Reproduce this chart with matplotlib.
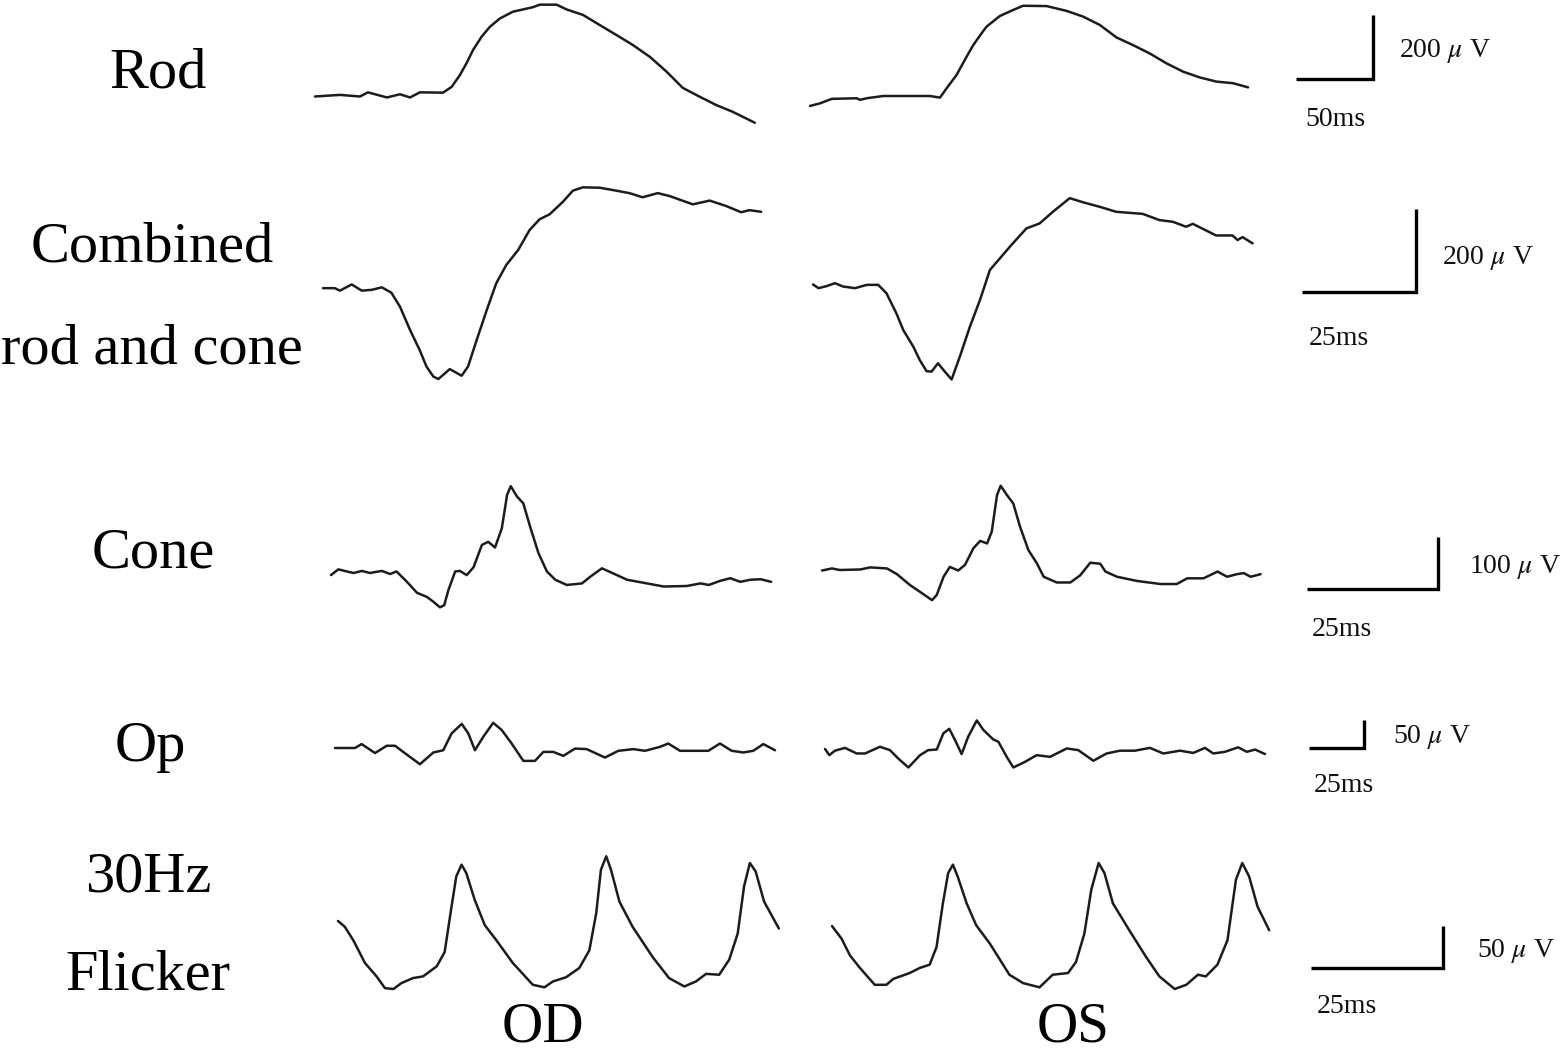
import matplotlib
matplotlib.use("Agg")
import matplotlib.pyplot as plt
from matplotlib.transforms import Affine2D

plt.rcParams["mathtext.fontset"] = "stix"

# ---------------- data (time in ms, amplitude in µV) ----------------
row_labels = ["Rod", "Combined\nrod and cone", "Cone", "Op", "30Hz\nFlicker"]
eye_labels = ["OD", "OS"]
bar_ms = [50, 25, 25, 25, 25]
bar_uv = [200, 200, 100, 50, 50]

rod_od_t = [0, 16.2, 29.2, 34.4, 46.7, 55.2, 61.7, 68.1, 83.1, 88.7, 94.1, 98.5, 102.6, 108.2,
            113.6, 120.1, 128.5, 141.5, 146, 156.9, 163.4, 174, 185, 195.8, 206.4, 217.4,
            228.2, 238.8, 249.9, 260.7, 271.3, 285.6]
rod_od_v = [0, 5, 0, 13, -3, 7, -3, 13, 12, 30, 67, 105, 145, 187, 218, 244, 265, 279, 287,
            287, 272, 255, 223, 192, 161, 124, 78, 27, -1, -27, -48, -82]

rod_os_t = [0, 6.5, 14.1, 30.3, 32.5, 36.8, 47.6, 77.9, 84.4, 88.7, 95.2, 101.7, 106, 111.4,
            114.7, 123.3, 132, 138.4, 153.6, 166.6, 177.4, 188.2, 199, 209.8, 220.6, 231.5,
            242.3, 253.1, 263.9, 274.7, 284.5]
rod_os_v = [-31, -23, -9, -7, -12, -7, 0, 0, -5, 24, 66, 123, 159, 196, 217, 250, 269, 282,
            281, 266, 248, 222, 183, 159, 133, 102, 76, 58, 45, 40, 27]

comb_od_t = [0, 2.6, 3.7, 6.3, 8.5, 10.7, 12.9, 15.0, 16.9, 19.1, 21.2, 22.7, 24.2, 25.3,
             27.8, 30.4, 31.8, 33.7, 35.9, 38.0, 40.2, 42.8, 45.3, 47.5, 49.7, 52.6, 54.8,
             57.0, 60.7, 64.3, 67.2, 70.1, 73.4, 76.0, 81.1, 84.8, 88.4, 91.7, 93.5, 96.1]
comb_od_v = [2, 2, -4, 11, -4, -2, 4, -9, -43, -99, -147, -187, -211, -217, -193, -209, -187,
             -123, -51, 14, 58, 94, 142, 168, 180, 210, 237, 245, 244, 237, 231, 221, 231,
             224, 204, 213, 200, 185, 190, 186]

comb_os_t = [0, 1.2, 3.0, 4.8, 6.6, 9.2, 11.8, 14.3, 16.1, 18.3, 19.8, 22.0, 23.4, 24.9,
             26.0, 27.4, 28.9, 30.4, 32.2, 34.4, 36.6, 38.8, 41.0, 43.5, 46.8, 49.7, 52.6,
             56.3, 59.2, 62.9, 66.5, 72.3, 76.0, 78.9, 81.8, 83.3, 88.4, 92.0, 93.1, 94.2, 96.4]
comb_os_v = [11, 2, 7, 14, 6, 2, 10, 10, -10, -59, -99, -139, -171, -198, -199, -179, -199,
             -218, -163, -91, -27, 46, 74, 106, 146, 158, 186, 219, 209, 198, 186, 181, 166,
             162, 150, 157, 129, 129, 118, 125, 110]

cone_od_t = [0, 1.4, 3.0, 4.3, 5.9, 7.4, 9.7, 11.3, 12.5, 14.5, 16.4, 18.3, 19.5, 20.8, 21.6,
             22.4, 23.7, 24.6, 25.9, 27.2, 28.8, 30.0, 31.3, 32.6, 33.6, 34.3, 35.5, 36.7,
             38.0, 39.6, 41.2, 42.8, 45.0, 47.9, 49.5, 51.7, 53.9, 56.5, 60.3, 63.5, 67.9,
             70.5, 72.1, 74.3, 76.2, 78.1, 80.0, 82.0, 84.0]
cone_od_v = [-4, 7, 3, 0, 4, 0, 4, -2, 3, -17, -38, -46, -55, -66, -62, -33, 3, 4, -4, 11,
             54, 60, 49, 86, 150, 167, 147, 134, 89, 38, 3, -13, -23, -20, -7, 9, -1, -13,
             -20, -26, -25, -20, -23, -15, -10, -17, -13, -12, -17]

cone_os_t = [0, 1.9, 3.4, 7.3, 9.2, 12.4, 14.3, 16.8, 18.7, 21.0, 21.9, 23.2, 24.4, 26.0,
             27.3, 28.9, 30.2, 31.5, 32.4, 33.4, 34.1, 35.3, 36.5, 37.8, 39.4, 41.0, 42.3,
             44.8, 47.4, 49.3, 51.2, 53.1, 54.1, 56.3, 60.1, 64.6, 67.7, 69.7, 72.8, 75.5,
             77.3, 79.2, 80.5, 81.8, 83.7]
cone_os_v = [-1, 3, 0, 1, 5, 3, -8, -29, -42, -58, -48, -13, 6, -1, 10, 42, 56, 51, 74, 144,
             162, 144, 128, 83, 38, 13, -13, -24, -24, -10, 14, 12, -3, -13, -21, -27, -27,
             -16, -16, -3, -13, -8, -6, -13, -8]

op_od_t = [0, 9.1, 12.1, 18.2, 23.5, 27.3, 31.0, 38.6, 44.7, 49.2, 53.0, 57.6, 60.6, 63.6,
           67.4, 71.9, 75.8, 80.3, 85.6, 90.9, 94.7, 99.2, 103.8, 109.1, 114.4, 122.7, 128.8,
           135.6, 140.9, 147.7, 151.5, 156.8, 169.7, 175.0, 180.3, 185.6, 190.1, 194.7, 200.0]
op_od_v = [0, 0, 7, -9, 4, 4, -7, -29, -8, -4, 26, 43, 26, -4, 20, 45, 32, 8, -23, -23, -7,
           -7, -14, -1, -2, -17, -5, -2, -5, 2, 8, -5, -5, 8, -5, -8, -5, 7, -4]

op_os_t = [0, 2.0, 4.5, 9.1, 14.4, 18.2, 25.0, 29.5, 33.3, 37.9, 43.2, 46.9, 50.8, 53.8,
           56.5, 59.1, 62.1, 65.1, 69.0, 72.0, 76.5, 78.8, 82.6, 85.6, 90.9, 96.2, 102.3,
           109.9, 115.1, 122.0, 128.0, 134.1, 140.9, 147.7, 153.8, 161.3, 167.4, 172.7,
           176.5, 181.8, 187.8, 191.7, 195.5, 200.0]
op_os_v = [0, -11, -3, 2, -8, -8, 4, -2, -17, -33, -11, -2, -1, 28, 36, 16, -9, 22, 51, 34,
           17, 13, -14, -33, -23, -11, -14, 1, -2, -21, -8, -3, -3, 2, -8, -3, -7, 2, -8, -5,
           3, -5, -1, -9]

flk_od_t = [0, 1.3, 2.9, 5.1, 7.3, 8.9, 10.5, 12.0, 14.2, 16.1, 18.7, 20.2, 21.5, 22.4, 23.4,
            24.3, 25.9, 27.8, 30.0, 33.1, 36.9, 39.1, 40.7, 43.2, 45.7, 47.6, 48.9, 49.8,
            50.8, 51.7, 53.3, 55.8, 59.6, 62.7, 65.6, 67.8, 69.7, 72.2, 74.1, 75.7, 76.9,
            78.0, 79.1, 80.7, 83.5]
flk_od_v = [56, 49, 33, 6, -10, -24, -25, -18, -12, -10, 2, 19, 73, 109, 123, 113, 81, 51,
            33, 6, -20, -23, -16, -11, 0, 21, 65, 117, 133, 117, 79, 49, 13, -12, -22, -16,
            -7, -8, 10, 41, 97, 125, 115, 79, 47]

flk_os_t = [0, 1.8, 3.4, 5.3, 8.1, 10.3, 11.6, 14.7, 16.6, 18.5, 19.8, 21.0, 22.0, 22.9,
            23.8, 25.5, 27.3, 29.9, 31.8, 33.6, 36.2, 39.3, 41.8, 44.7, 46.2, 47.8, 49.1,
            50.5, 51.6, 53.2, 56.3, 59.5, 62.0, 64.9, 67.1, 69.3, 70.8, 73.0, 74.9, 76.5,
            77.7, 79.0, 80.6, 82.8]
flk_os_v = [50, 35, 15, 0, -20, -20, -13, -6, 0, 4, 25, 77, 113, 123, 109, 77, 51, 29, 10,
            -8, -18, -23, -8, -6, 7, 41, 93, 125, 113, 77, 45, 13, -10, -25, -20, -8, -10, 4,
            33, 105, 125, 109, 73, 45]

traces = [
    [(rod_od_t, rod_od_v), (rod_os_t, rod_os_v)],
    [(comb_od_t, comb_od_v), (comb_os_t, comb_os_v)],
    [(cone_od_t, cone_od_v), (cone_os_t, cone_os_v)],
    [(op_od_t, op_od_v), (op_os_t, op_os_v)],
    [(flk_od_t, flk_od_v), (flk_os_t, flk_os_v)],
]

# ---------------- layout (pixels) ----------------
W, H = 1565, 1052
px_per_ms = [1.54, 4.56, 5.24, 2.2, 5.28]
px_per_uv = [0.32, 0.415, 0.52, 0.56, 0.84]
anchors = [[(315, 96.5), (810, 96)],
           [(323, 289), (813, 289)],
           [(331, 573), (822, 570)],
           [(335, 748), (825, 749)],
           [(338, 968), (832, 968)]]
bar_corner = [(1373, 79), (1416, 292), (1438, 589), (1364, 748), (1443, 968)]
uv_text_pos = [(1399, 57), (1442, 264), (1469, 573), (1393, 743), (1477, 957)]
ms_text_pos = [(1305, 126), (1309, 345), (1312, 636), (1314, 792), (1317, 1013)]
label_pos = [(158, [87]), (152, [261, 363]), (153, [567]), (150, [761]), (148, [891, 990])]

fig = plt.figure(figsize=(W / 100, H / 100), dpi=100)
fig.patch.set_facecolor("white")
ax = fig.add_axes([0, 0, 1, 1])
ax.set_xlim(0, W)
ax.set_ylim(H, 0)
ax.axis("off")

serif = ["Liberation Serif", "DejaVu Serif"]

for r in range(5):
    sx, sy = px_per_ms[r], px_per_uv[r]
    for e in range(2):
        t, v = traces[r][e]
        x0, y0 = anchors[r][e]
        tr = Affine2D().scale(sx, -sy).translate(x0, y0) + ax.transData
        ax.plot(t, v, color="#1c1c1c", lw=1.8, transform=tr,
                solid_joinstyle="round", solid_capstyle="round")
    # scale bar
    cx, cy = bar_corner[r]
    tr = Affine2D().scale(sx, -sy).translate(cx, cy) + ax.transData
    ax.plot([-bar_ms[r], 0, 0], [0, 0, bar_uv[r]], color="black", lw=2.4,
            transform=tr, solid_joinstyle="miter", solid_capstyle="butt")
    ux, uy = uv_text_pos[r]
    ax.text(ux, uy, f"{bar_uv[r]} $\\mu$ V", family=serif, fontsize=20,
            ha="left", va="baseline", color="#111111")
    mx, my = ms_text_pos[r]
    ax.text(mx, my, f"{bar_ms[r]}ms", family=serif, fontsize=20,
            ha="left", va="baseline", color="#111111")

# row labels
for r, lab in enumerate(row_labels):
    lx, ys = label_pos[r]
    for line, yy in zip(lab.split("\n"), ys):
        ax.text(lx, yy, line, family=serif, fontsize=42, ha="center", va="baseline",
                color="black")

# eye labels
for name, xx in zip(eye_labels, [543, 1073]):
    ax.text(xx, 1042, name, family=serif, fontsize=41, ha="center", va="baseline",
            color="black")

fig.savefig("out.png", dpi=100, facecolor="white")
